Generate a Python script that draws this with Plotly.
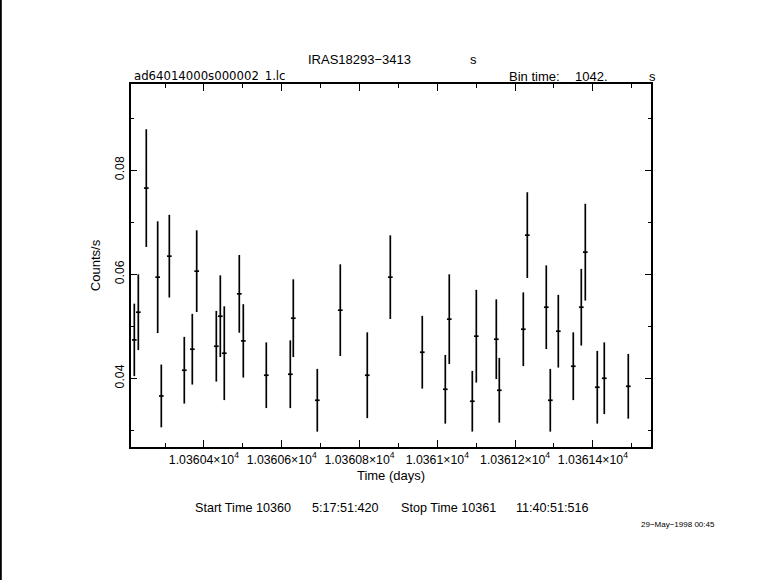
import plotly.graph_objects as go

# Light curve data (time in days, counts/s, 1-sigma errors)
time_days = [10360.2211, 10360.2314, 10360.2519, 10360.2812, 10360.2905, 10360.3111,
             10360.3496, 10360.3702, 10360.3815, 10360.4319, 10360.4422, 10360.4524,
             10360.4910, 10360.5013, 10360.5604, 10360.6221, 10360.6298, 10360.6915,
             10360.7506, 10360.8200, 10360.8792, 10360.9614, 10361.0206, 10361.0308,
             10361.0900, 10361.1003, 10361.1517, 10361.1594, 10361.2211, 10361.2314,
             10361.2802, 10361.2905, 10361.3111, 10361.3496, 10361.3702, 10361.3805,
             10361.4113, 10361.4293, 10361.4910]
rate = [0.04737, 0.05269, 0.07654, 0.05942, 0.03660, 0.06346,
        0.04154, 0.04558, 0.06058, 0.04615, 0.05192, 0.04481,
        0.05622, 0.04718, 0.04058, 0.04077, 0.05154, 0.03577,
        0.05308, 0.04058, 0.05942, 0.04500, 0.03788, 0.05135,
        0.03558, 0.04808, 0.04750, 0.03769, 0.04942, 0.06750,
        0.05365, 0.03577, 0.04904, 0.04231, 0.05365, 0.06423,
        0.03827, 0.04000, 0.03846]
rate_err = [0.00696, 0.00728, 0.01131, 0.01074, 0.00603, 0.00795,
            0.00641, 0.00679, 0.00785, 0.00679, 0.00785, 0.00901,
            0.00747, 0.00705, 0.00631, 0.00651, 0.00747, 0.00603,
            0.00881, 0.00824, 0.00804, 0.00699, 0.00660, 0.00862,
            0.00583, 0.00891, 0.00766, 0.00622, 0.00708, 0.00824,
            0.00804, 0.00603, 0.00699, 0.00651, 0.00737, 0.00930,
            0.00699, 0.00689, 0.00622]
bin_half_width = 1042.0 / 86400.0 / 2.0

x_tickvals = [10360.4, 10360.6, 10360.8, 10361.0, 10361.2, 10361.4]
x_ticktext = ["1.03604×10<sup>4</sup>", "1.03606×10<sup>4</sup>", "1.03608×10<sup>4</sup>",
              "1.0361×10<sup>4</sup>", "1.03612×10<sup>4</sup>", "1.03614×10<sup>4</sup>"]

FONT = "Liberation Sans"
W, H = 781, 580
L, R, T, B = 131, 130, 84, 133
pw = W - L - R

fig = go.Figure()
fig.add_trace(go.Scatter(
    x=time_days, y=rate, mode="markers",
    marker=dict(color="black", size=1),
    error_y=dict(type="data", array=rate_err, color="black", thickness=1.7, width=0),
    error_x=dict(type="constant", value=bin_half_width, color="black", thickness=1.7, width=0),
    showlegend=False, hoverinfo="skip",
))

fig.update_layout(
    width=W, height=H,
    margin=dict(l=L, r=R, t=T, b=B, pad=0),
    paper_bgcolor="white", plot_bgcolor="white",
    font=dict(family=FONT, size=12, color="black"),
    xaxis=dict(
        range=[10360.2126, 10361.5494],
        tickvals=x_tickvals, ticktext=x_ticktext,
        ticks="inside", ticklen=7, tickwidth=1, tickcolor="black",
        mirror="allticks", showline=True, linecolor="black", linewidth=1.5,
        showgrid=False, zeroline=False,
        minor=dict(dtick=0.1, tick0=10360.0, ticks="inside", ticklen=4, tickcolor="black", showgrid=False),
        tickfont=dict(family=FONT, size=12.3),
        title=dict(text="Time (days)", font=dict(family=FONT, size=13), standoff=5),
    ),
    yaxis=dict(
        range=[0.02679, 0.09654],
        tick0=0.0, dtick=0.02, tickformat=".2f",
        ticks="inside", ticklen=6, tickwidth=1, tickcolor="black",
        mirror="allticks", showline=True, linecolor="black", linewidth=1.5,
        showgrid=False, zeroline=False,
        minor=dict(dtick=0.01, tick0=0.0, ticks="inside", ticklen=3, tickcolor="black", showgrid=False),
        tickangle=-90,
        tickfont=dict(family=FONT, size=12.3),
        title=dict(text="Counts/s", font=dict(family=FONT, size=13), standoff=10),
    ),
)

def px_x(px):
    return (px - L) / pw

def px_y(py):
    return 1 - (py - T) / (H - T - B)

annots = [
    ("IRAS18293−3413", 359, 59, "center", 13, FONT),
    ("s", 473, 59, "center", 13, FONT),
    ("ad64014000s000002_1.lc", 132, 75, "left", 13, "DejaVu Sans Condensed, DejaVu Sans"),
    ("Bin time:", 507, 76, "left", 13, FONT),
    ("1042.", 573, 76, "left", 13, FONT),
    ("s", 652, 76, "center", 13, FONT),
    ("Start Time 10360", 193, 508, "left", 12.6, FONT),
    ("5:17:51:420", 345, 508, "center", 12.6, FONT),
    ("Stop Time 10361", 448, 508, "center", 12.6, FONT),
    ("11:40:51:516", 591, 508, "right", 12.6, FONT),
    ("29−May−1998 00:45", 678, 524, "center", 8, FONT),
]
for text, x, y, anchor, size, fam in annots:
    fig.add_annotation(text=text, xref="paper", yref="paper", x=px_x(x), y=px_y(y),
                       xanchor=anchor, yanchor="middle", showarrow=False,
                       font=dict(family=fam, size=size, color="black"))

# left-edge vertical black line of the page
fig.add_shape(type="line", xref="paper", yref="paper",
              x0=px_x(0.8), x1=px_x(0.8), y0=px_y(0), y1=px_y(H),
              line=dict(color="black", width=2))

fig.write_html("out.html",
               config={"displayModeBar": False},
               post_script="document.body.style.margin='0';document.body.style.padding='0';")
